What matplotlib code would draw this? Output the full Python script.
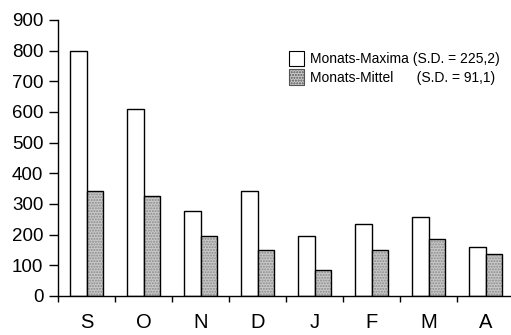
import matplotlib.pyplot as plt
from matplotlib.ticker import MultipleLocator
from matplotlib.patches import Patch
import numpy as np

plt.rcParams['font.family'] = ['Liberation Sans', 'DejaVu Sans']

months = ["S", "O", "N", "D", "J", "F", "M", "A"]
maxima = [800, 610, 277, 342, 197, 234, 257, 160]
mittel = [343, 325, 197, 149, 86, 151, 187, 136]
label_max = "Monats-Maxima (S.D. = 225,2)"
label_mit = "Monats-Mittel      (S.D. = 91,1)"

fig = plt.figure(figsize=(5.11, 3.35), dpi=100)
ax = fig.add_axes([58 / 511, 39 / 335, 453 / 511, 276 / 335])

x = np.arange(len(months)) + 0.5
w = 0.29

# white bars
ax.bar(x - w / 2, maxima, w, color="white", edgecolor="black", linewidth=1.0,
       zorder=2)

# stippled grey bars: fill + hatch, then outline
ax.bar(x + w / 2, mittel, w, color="#c9c9c9", edgecolor="#8a8a8a", linewidth=0,
       hatch="......", zorder=2)
ax.bar(x + w / 2, mittel, w, fill=False, edgecolor="black", linewidth=1.0, zorder=3)

ax.set_xlim(0, 453 / 57)
ax.set_ylim(0, 900)
ax.yaxis.set_major_locator(MultipleLocator(100))

ax.set_xticks(np.arange(len(months)))
ax.set_xticklabels([])
ax.set_xticks(x, minor=True)
ax.set_xticklabels(months, minor=True, fontsize=14.5)
ax.tick_params(axis="x", which="major", direction="out", length=4.5, width=1)
ax.tick_params(axis="x", which="minor", length=0, pad=12)
ax.tick_params(axis="y", direction="out", length=6.5, width=1, labelsize=13.5, pad=4)

for side in ["top", "right"]:
    ax.spines[side].set_visible(False)
for side in ["left", "bottom"]:
    ax.spines[side].set_linewidth(1.0)

# legend
h1 = Patch(facecolor="white", edgecolor="black", linewidth=0.8)
h2 = Patch(facecolor="#c9c9c9", edgecolor="#555555", linewidth=0.8, hatch="......")
fig.legend([h1, h2], [label_max, label_mit], loc="upper left",
           bbox_to_anchor=(279 / 511, 1 - 41 / 335), frameon=False,
           fontsize=10, handlelength=1.1, handleheight=1.3, handletextpad=0.4,
           labelspacing=0.25, borderpad=0.2)

fig.savefig("out.png", dpi=100)
